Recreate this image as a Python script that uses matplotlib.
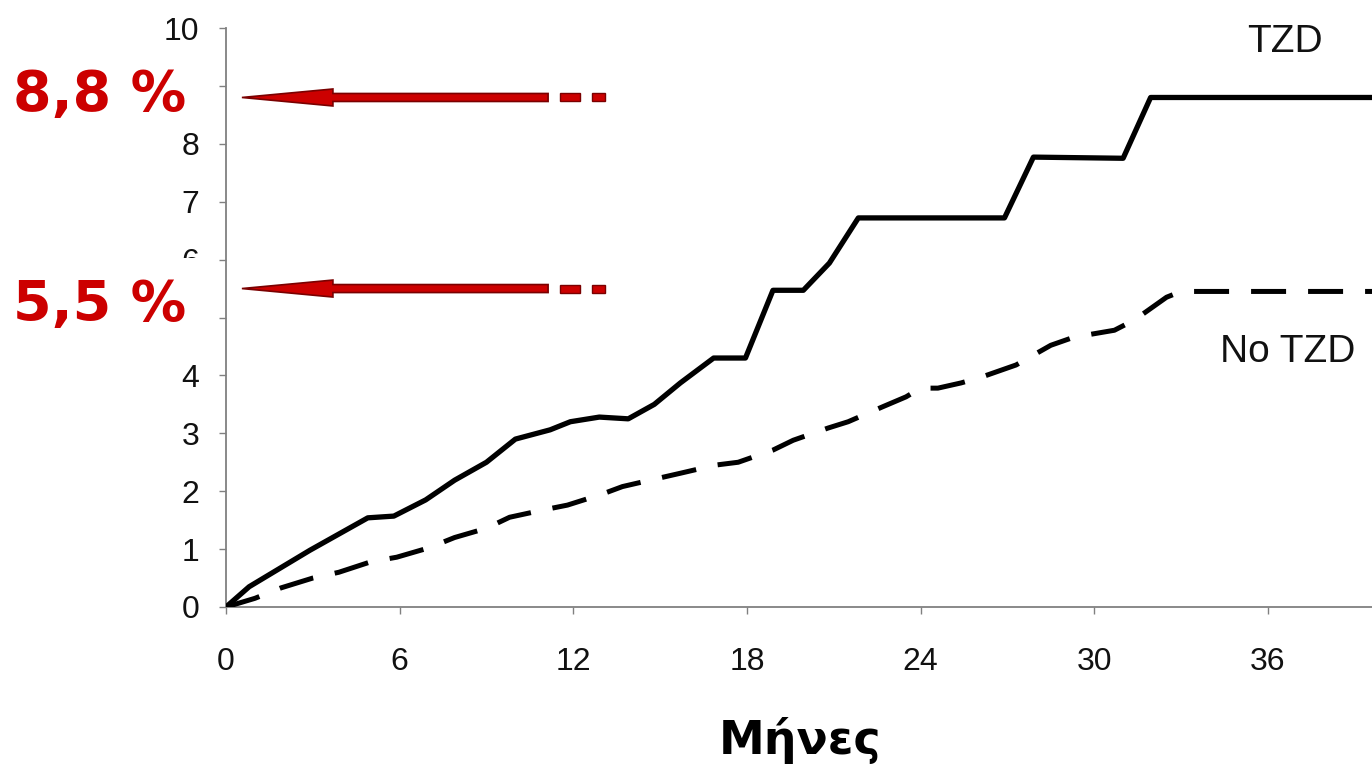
import matplotlib.pyplot as plt
import matplotlib.patches as mpatches

# Συσσωρευτική επίπτωση (%) ανά μήνα παρακολούθησης
tzd_months = [0, 0.8, 2.9, 4.9, 5.8, 6.9, 7.9, 9.0, 10.0, 11.2, 11.9, 12.9, 13.9,
              14.8, 15.7, 16.85, 17.95, 18.9, 19.95, 20.85, 21.85, 26.9, 27.9,
              31.0, 31.95, 39.6]
tzd_rate = [0, 0.35, 0.98, 1.54, 1.57, 1.85, 2.19, 2.5, 2.9, 3.06, 3.2, 3.28, 3.25,
            3.5, 3.87, 4.3, 4.3, 5.47, 5.47, 5.94, 6.72, 6.72, 7.77,
            7.75, 8.8, 8.8]

notzd_months = [0, 1.0, 1.9, 3.0, 3.9, 5.0, 5.9, 7.0, 7.9, 9.0, 9.8, 11.0, 11.8,
                13.0, 13.7, 15.0, 15.7, 16.9, 17.7, 18.9, 19.6, 20.8, 21.5, 22.7,
                23.5, 24.0, 24.6, 25.4, 26.1, 27.3, 28.5, 29.3, 30.7, 31.4, 32.5,
                33.0, 39.6]
notzd_rate = [0, 0.15, 0.33, 0.5, 0.6, 0.78, 0.86, 1.02, 1.2, 1.36, 1.55, 1.68, 1.76,
              1.95, 2.08, 2.23, 2.31, 2.45, 2.5, 2.71, 2.88, 3.09, 3.2, 3.46,
              3.63, 3.78, 3.78, 3.87, 3.97, 4.18, 4.52, 4.66, 4.78, 4.96, 5.35,
              5.45, 5.45]

x_ticks = [0, 6, 12, 18, 24, 30, 36]
y_ticks = list(range(0, 11))
# οι ετικέτες 5 και 9 καλύπτονται από τα κόκκινα ποσοστά
y_ticklabels = ['0', '1', '2', '3', '4', '', '6', '7', '8', '', '10']

arrow_levels = [8.8, 5.5]
arrow_labels = ["8,8 %", "5,5 %"]

red = '#cc0000'
axis_grey = '#808080'
W, H = 1372, 767

fig = plt.figure(figsize=(W / 100, H / 100), dpi=100)
ax = fig.add_axes([226 / W, 1 - 607 / H, 1 - 226 / W, (607 - 28) / H])

ax.plot(tzd_months, tzd_rate, color='black', lw=3.8,
        solid_joinstyle='round', solid_capstyle='butt', zorder=3)
ax.plot(notzd_months, notzd_rate, color='black', lw=3.6,
        dashes=(7, 4.4), dash_capstyle='butt', zorder=3)

ax.set_xlim(0, 39.6)
ax.set_ylim(0, 10)
ax.set_xticks(x_ticks)
ax.set_yticks(y_ticks)
ax.set_yticklabels(y_ticklabels)
ax.tick_params(axis='both', colors=axis_grey, width=1, length=5,
               labelcolor='#111111', labelsize=23)
ax.tick_params(axis='x', pad=24)
ax.tick_params(axis='y', pad=14)
for lab in ax.get_xticklabels() + ax.get_yticklabels():
    lab.set_family('Liberation Sans')

for side in ['top', 'right']:
    ax.spines[side].set_visible(False)
for side in ['left', 'bottom']:
    ax.spines[side].set_color(axis_grey)
    ax.spines[side].set_linewidth(1.3)

ax.text(36.6, 9.76, "TZD", fontsize=28, family='Liberation Sans', color='#111111',
        ha='center', va='center')
ax.text(36.7, 4.40, "No TZD", fontsize=28, family='Liberation Sans', color='#111111',
        ha='center', va='center')

# Κόκκινα βέλη προς τα τελικά ποσοστά
px_x = 39.6 / (1372 - 226)
px_y = 10 / (607 - 28)
for level in arrow_levels:
    arr = mpatches.FancyArrow(11.13, level, -(11.13 - 0.55), 0,
                              width=8 * px_y, head_width=17 * px_y,
                              head_length=91 * px_x, length_includes_head=True,
                              facecolor=red, edgecolor='#7a0000', lw=1.2,
                              zorder=4, clip_on=False)
    ax.add_patch(arr)
    for x0, x1 in [(11.55, 12.24), (12.66, 13.1)]:
        ax.add_patch(mpatches.Rectangle((x0, level - 4 * px_y), x1 - x0, 8 * px_y,
                                        facecolor=red, edgecolor='#7a0000',
                                        lw=1.0, zorder=4, clip_on=False))

# λευκό φόντο πίσω από το "5,5 %" (κόβει το κάτω μέρος του 6)
fig.add_artist(mpatches.Rectangle((0, 1 - 338 / H), 214 / W, (338 - 258) / H,
                                  transform=fig.transFigure, facecolor='white',
                                  edgecolor='none', zorder=4))

label_baselines = [110, 320]
for label, base in zip(arrow_labels, label_baselines):
    fig.text(100 / W, 1 - base / H, label, fontsize=40, fontweight='bold',
             color=red, ha='center', va='baseline', family='DejaVu Sans', zorder=5)

fig.text(0.583, 0.035, "Μήνες", fontsize=33, fontweight='bold',
         color='black', ha='center', va='center', family='DejaVu Sans')

fig.savefig('out.png', dpi=100)
